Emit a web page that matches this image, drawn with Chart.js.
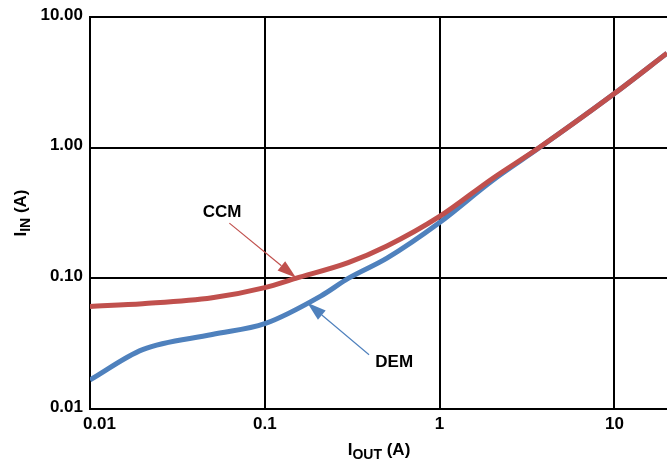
<!DOCTYPE html>
<html>
<head>
<meta charset="utf-8">
<script src="https://cdn.jsdelivr.net/npm/chart.js@4/dist/chart.umd.min.js"></script>
<style>
    html, body { margin: 0; padding: 0; background: #ffffff; }
    #wrap { position: relative; width: 667px; height: 470px; }
</style>
</head>
<body>
<div id="wrap"><canvas id="chart"></canvas></div>
<script>
"use strict";

// Gemeten waarden uit de grafiek (log-log).
const ccmX = [0.01, 0.02, 0.05, 0.1, 0.15, 0.3, 0.5, 1, 2, 3.7, 10, 20];
const ccmY = [0.061, 0.064, 0.071, 0.085, 0.100, 0.132, 0.177, 0.298, 0.58, 1.0, 2.6, 5.3];

const demX = [0.01, 0.02, 0.05, 0.1, 0.21, 0.3, 0.5, 1, 2, 3.7, 10, 20];
const demY = [0.0167, 0.0285, 0.0372, 0.045, 0.0735, 0.100, 0.143, 0.268, 0.56, 0.995, 2.6, 5.3];

const xTicks = [0.01, 0.1, 1, 10];
const xTickLabels = ["0.01", "0.1", "1", "10"];
const yTicks = [0.01, 0.1, 1, 10];
const yTickLabels = ["0.01", "0.10", "1.00", "10.00"];

const redColor = "#c0504d";
const blueColor = "#4f81bd";
const fontFamily = "'Liberation Sans', Arial, sans-serif";

// Labels met pijl: tekstpositie, begin van de pijl en punt van de pijl (in datacoordinaten).
const callouts = [
    { text: "CCM", color: redColor, textAt: [0.057, 0.322], from: [0.0627, 0.265], to: [0.151, 0.101] },
    { text: "DEM", color: blueColor, textAt: [0.55, 0.0226], from: [0.395, 0.026], to: [0.175, 0.065] }
];

function toPoints(xs, ys) {
    return xs.map((x, i) => ({ x: x, y: ys[i] }));
}

// Teken de aswoorden met subscript en de pijlen met CCM / DEM.
const extraText = {
    id: "extraText",
    afterDraw(chart) {
        const ctx = chart.ctx;
        const xs = chart.scales.x;
        const ys = chart.scales.y;
        ctx.save();

        callouts.forEach((c) => {
            const fx = xs.getPixelForValue(c.from[0]);
            const fy = ys.getPixelForValue(c.from[1]);
            const tx = xs.getPixelForValue(c.to[0]);
            const ty = ys.getPixelForValue(c.to[1]);
            const angle = Math.atan2(ty - fy, tx - fx);
            const headLen = 19;
            const headHalf = 6;
            const bx = tx - headLen * Math.cos(angle);
            const by = ty - headLen * Math.sin(angle);

            ctx.strokeStyle = c.color;
            ctx.fillStyle = c.color;
            ctx.lineWidth = 1.2;
            ctx.beginPath();
            ctx.moveTo(fx, fy);
            ctx.lineTo(bx, by);
            ctx.stroke();

            ctx.beginPath();
            ctx.moveTo(tx, ty);
            ctx.lineTo(bx + headHalf * Math.sin(angle), by - headHalf * Math.cos(angle));
            ctx.lineTo(bx - headHalf * Math.sin(angle), by + headHalf * Math.cos(angle));
            ctx.closePath();
            ctx.fill();

            ctx.fillStyle = "#000000";
            ctx.font = "bold 17px " + fontFamily;
            ctx.textAlign = "center";
            ctx.textBaseline = "middle";
            ctx.fillText(c.text, xs.getPixelForValue(c.textAt[0]), ys.getPixelForValue(c.textAt[1]));
        });

        // Titel x-as: I_OUT (A)
        ctx.fillStyle = "#000000";
        ctx.textBaseline = "alphabetic";
        ctx.textAlign = "left";
        const mainFont = "bold 17px " + fontFamily;
        const subFont = "bold 14px " + fontFamily;
        ctx.font = mainFont;
        const wI = ctx.measureText("I").width;
        const wRest = ctx.measureText(" (A)").width;
        ctx.font = subFont;
        const wOut = ctx.measureText("OUT").width;
        let x0 = 379 - (wI + wOut + wRest) / 2;
        const base = 459;
        ctx.font = mainFont;
        ctx.fillText("I", x0, base - 4);
        ctx.font = subFont;
        ctx.fillText("OUT", x0 + wI, base);
        ctx.font = mainFont;
        ctx.fillText(" (A)", x0 + wI + wOut, base - 4);

        // Titel y-as: I_IN (A), gedraaid
        ctx.translate(30, 213);
        ctx.rotate(-Math.PI / 2);
        ctx.font = mainFont;
        const wI2 = ctx.measureText("I").width;
        const wRest2 = ctx.measureText(" (A)").width;
        ctx.font = subFont;
        const wIn = ctx.measureText("IN").width;
        x0 = -(wI2 + wIn + wRest2) / 2;
        ctx.font = mainFont;
        ctx.fillText("I", x0, -4);
        ctx.font = subFont;
        ctx.fillText("IN", x0 + wI2, 0);
        ctx.font = mainFont;
        ctx.fillText(" (A)", x0 + wI2 + wIn, -4);

        ctx.restore();
    }
};

const config = {
    type: "line",
    data: {
        datasets: [
            {
                label: "CCM",
                data: toPoints(ccmX, ccmY),
                borderColor: redColor,
                backgroundColor: redColor
            },
            {
                label: "DEM",
                data: toPoints(demX, demY),
                borderColor: blueColor,
                backgroundColor: blueColor
            }
        ]
    },
    options: {
        responsive: true,
        maintainAspectRatio: false,
        animation: false,
        layout: {
            padding: { top: 16, right: 0, left: 0, bottom: 0 }
        },
        elements: {
            line: {
                borderWidth: 5,
                cubicInterpolationMode: "monotone"
            },
            point: {
                radius: 0,
                hoverRadius: 0
            }
        },
        scales: {
            x: {
                type: "logarithmic",
                min: 0.01,
                max: 20,
                afterBuildTicks(scale) {
                    scale.ticks = xTicks.map((v) => ({ value: v }));
                },
                afterFit(scale) {
                    scale.height = 61;
                },
                ticks: {
                    color: "#000000",
                    autoSkip: false,
                    maxRotation: 0,
                    padding: 5,
                    font: { family: fontFamily, size: 17, weight: "bold" },
                    callback(value, index) {
                        return index === 0 ? "    " + xTickLabels[index] : xTickLabels[index];
                    }
                },
                grid: {
                    color: "#000000",
                    lineWidth: 2,
                    drawTicks: false
                },
                border: {
                    color: "#000000",
                    width: 2
                }
            },
            y: {
                type: "logarithmic",
                min: 0.01,
                max: 10,
                afterBuildTicks(scale) {
                    scale.ticks = yTicks.map((v) => ({ value: v }));
                },
                afterFit(scale) {
                    scale.width = 90;
                },
                ticks: {
                    color: "#000000",
                    autoSkip: false,
                    padding: 7,
                    labelOffset: -2,
                    font: { family: fontFamily, size: 17, weight: "bold" },
                    callback(value, index) {
                        return yTickLabels[index];
                    }
                },
                grid: {
                    color: "#000000",
                    lineWidth: 2,
                    drawTicks: false
                },
                border: {
                    color: "#000000",
                    width: 2
                }
            }
        },
        plugins: {
            legend: { display: false },
            tooltip: { enabled: false }
        }
    },
    plugins: [extraText]
};

new Chart(document.getElementById("chart"), config);
</script>
</body>
</html>
